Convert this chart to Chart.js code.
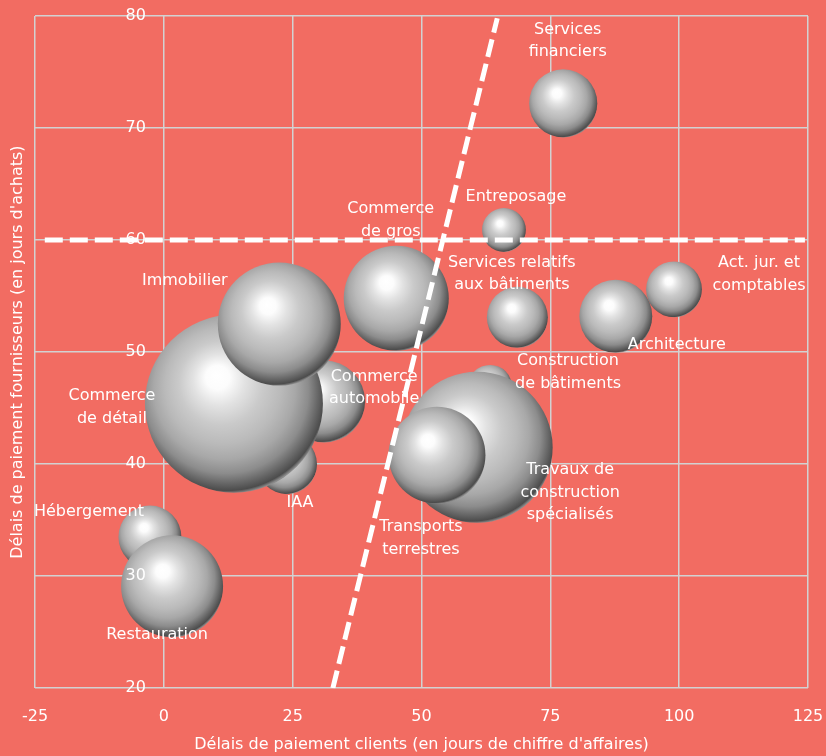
<!DOCTYPE html>
<html lang="fr">
<head>
<meta charset="utf-8">
<title>Délais de paiement par secteur</title>
<script src="https://cdn.jsdelivr.net/npm/chart.js@4/dist/chart.umd.min.js"></script>
<style>
  html, body { margin: 0; padding: 0; background: #F26C62; }
  canvas { display: block; }
</style>
</head>
<body>
<canvas id="graphique" width="826" height="756"></canvas>
<script>
// Secteurs (une entrée par ligne de libellé)
const secteurs = [
  ['Hébergement'],
  ['Restauration'],
  ['Commerce', 'automobile'],
  ['IAA'],
  ['Commerce', 'de détail'],
  ['Immobilier'],
  ['Commerce', 'de gros'],
  ['Entreposage'],
  ['Services', 'financiers'],
  ['Services relatifs', 'aux bâtiments'],
  ['Architecture'],
  ['Act. jur. et', 'comptables'],
  ['Construction', 'de bâtiments'],
  ['Travaux de', 'construction', 'spécialisés'],
  ['Transports', 'terrestres']
];
// Délais clients (jours de chiffre d'affaires)
const delaisClients = [-2.7, 1.6, 31.1, 23.9, 13.6, 22.4, 45.1, 66.0, 77.5, 68.6, 87.7, 99.0, 63.3, 60.8, 53.0];
// Délais fournisseurs (jours d'achats)
const delaisFournisseurs = [33.5, 29.1, 45.6, 40.0, 45.4, 52.5, 54.8, 60.9, 72.2, 53.1, 53.2, 55.6, 46.9, 41.5, 40.8];
// Poids relatif de chaque secteur (aire de la bulle)
const poids = [9.9, 26.0, 16.8, 9.0, 79.2, 37.8, 27.6, 4.8, 11.6, 9.3, 13.3, 7.8, 4.8, 57.0, 23.5];

// Seuils tracés en pointillés
const seuilFournisseurs = [{ x: -23.1, y: 60 }, { x: 124.4, y: 60 }];
const droiteSeuil = [{ x: 32.8, y: 20 }, { x: 64.7, y: 79.8 }];

// Graduations des axes
const graduationsX = [-25, 0, 25, 50, 75, 100, 125];
const graduationsY = [20, 30, 40, 50, 60, 70, 80];

const FOND = '#F26C62';
const BLANC = '#ffffff';
const GRILLE = '#d2d2d2';
const POLICE = "'DejaVu Sans', sans-serif";

// Décalage des libellés par rapport au centre de chaque bulle (px)
const placementLibelles = [
  [-61, -25], [-15, 49], [50, -13.5], [13, 39], [-122, 3.5],
  [-94.5, -43.5], [-5.5, -78], [12, -33.5], [4.5, -62.5], [-5.5, -43.5],
  [61, 28.5], [85, -15], [78, -14.5], [93, 45.5], [-16, 83]
];

const bulles = secteurs.map((s, i) => ({
  x: delaisClients[i],
  y: delaisFournisseurs[i],
  r: Math.sqrt(poids[i]) * 10
}));

// Remplissage en sphère : reflet blanc en haut à gauche, ombre en bas à droite
function sphere(context) {
  const raw = context.raw;
  if (!raw || context.type !== 'data') return '#b5b5b5';
  const { chart } = context;
  const sx = chart.scales.x, sy = chart.scales.y;
  if (!sx || !sy) return '#b5b5b5';
  const cx = sx.getPixelForValue(raw.x);
  const cy = sy.getPixelForValue(raw.y);
  const r = raw.r;
  if (!isFinite(cx) || !isFinite(cy) || !isFinite(r)) return '#b5b5b5';
  const g = chart.ctx.createRadialGradient(
    cx - 0.2 * r, cy - 0.32 * r, 0,
    cx - 0.07 * r, cy - 0.11 * r, 1.12 * r
  );
  g.addColorStop(0, '#ffffff');
  g.addColorStop(0.12, '#fcfcfc');
  g.addColorStop(0.26, '#e2e2e2');
  g.addColorStop(0.42, '#cacaca');
  g.addColorStop(0.58, '#bababa');
  g.addColorStop(0.71, '#a8a8a8');
  g.addColorStop(0.83, '#8c8c8c');
  g.addColorStop(0.93, '#606060');
  g.addColorStop(0.975, '#4c4c4c');
  g.addColorStop(1, '#8a8a8a');
  return g;
}

const fond = {
  id: 'fond',
  beforeDraw(chart) {
    const c = chart.ctx;
    c.save();
    c.fillStyle = FOND;
    c.fillRect(0, 0, chart.width, chart.height);
    c.restore();
  }
};

// Libellés des secteurs
const libelles = {
  id: 'libelles',
  afterDatasetsDraw(chart) {
    const meta = chart.getDatasetMeta(2);
    const c = chart.ctx;
    const hauteurLigne = 22.5;
    c.save();
    c.font = '16px ' + POLICE;
    c.fillStyle = BLANC;
    c.textAlign = 'center';
    c.textBaseline = 'middle';
    meta.data.forEach((el, i) => {
      const [dx, dy] = placementLibelles[i];
      const lignes = secteurs[i];
      const y0 = el.y + dy - (lignes.length - 1) * hauteurLigne / 2;
      lignes.forEach((t, k) => c.fillText(t, el.x + dx, y0 + k * hauteurLigne));
    });
    c.restore();
  }
};

// Graduations de l'axe vertical, placées contre l'abscisse 0
const etiquettesY = {
  id: 'etiquettesY',
  afterDraw(chart) {
    const { x, y } = chart.scales;
    const c = chart.ctx;
    const px = x.getPixelForValue(0) - 18;
    c.save();
    c.font = '16px ' + POLICE;
    c.fillStyle = BLANC;
    c.textAlign = 'right';
    c.textBaseline = 'middle';
    graduationsY.forEach(v => c.fillText(String(v), px, y.getPixelForValue(v)));
    c.restore();
  }
};

const pointilles = {
  borderColor: BLANC,
  borderWidth: 5,
  borderDash: [18, 7],
  borderCapStyle: 'butt',
  pointRadius: 0,
  fill: false,
  tension: 0,
  order: 0
};

new Chart(document.getElementById('graphique'), {
  type: 'bubble',
  data: {
    datasets: [
      Object.assign({ type: 'line', label: 'Seuil fournisseurs', data: seuilFournisseurs }, pointilles),
      Object.assign({ type: 'line', label: 'Seuil', data: droiteSeuil }, pointilles),
      {
        type: 'bubble',
        label: 'Secteurs',
        data: bulles,
        backgroundColor: sphere,
        borderWidth: 0,
        hoverBorderWidth: 0,
        order: 1
      }
    ]
  },
  options: {
    responsive: false,
    animation: false,
    events: [],
    devicePixelRatio: 1,
    layout: { autoPadding: false, padding: { left: 0, right: 18, top: 16, bottom: 0 } },
    plugins: {
      legend: { display: false },
      tooltip: { enabled: false }
    },
    scales: {
      x: {
        type: 'linear',
        position: 'bottom',
        min: -25,
        max: 125,
        afterBuildTicks: s => { s.ticks = graduationsX.map(v => ({ value: v })); },
        // l'écart des graduations ne doit pas rogner la zone de tracé à droite
        afterFit: s => { s.paddingLeft = 0; s.paddingRight = 0; },
        grid: { color: GRILLE, lineWidth: 1.5, drawTicks: false },
        border: { display: false },
        ticks: { color: BLANC, font: { family: POLICE, size: 16 }, padding: 19.4, maxRotation: 0 },
        title: {
          display: true,
          text: "Délais de paiement clients (en jours de chiffre d'affaires)",
          color: BLANC,
          font: { family: POLICE, size: 16 },
          padding: { top: -11.4, bottom: 2 }
        }
      },
      y: {
        type: 'linear',
        position: 'left',
        min: 20,
        max: 80,
        afterBuildTicks: s => { s.ticks = graduationsY.map(v => ({ value: v })); },
        grid: { color: GRILLE, lineWidth: 1.5, drawTicks: false },
        border: { display: false },
        ticks: { display: false },
        title: {
          display: true,
          text: "Délais de paiement fournisseurs (en jours d'achats)",
          color: BLANC,
          font: { family: POLICE, size: 16 },
          padding: { top: 8.4, bottom: 7.4 }
        }
      }
    }
  },
  plugins: [fond, libelles, etiquettesY]
});
</script>
</body>
</html>
